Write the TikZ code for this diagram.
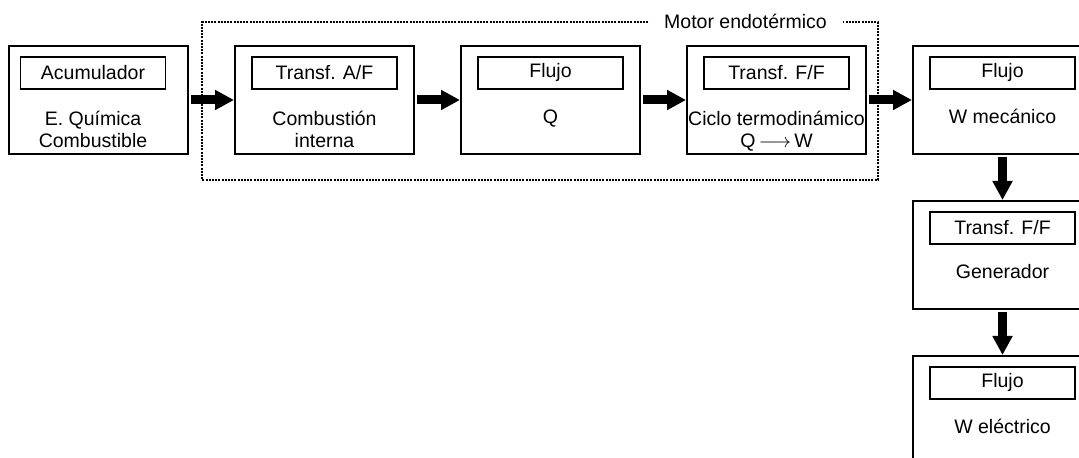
\documentclass[tikz,border=0pt]{standalone}
\usepackage{fontspec}
\setmainfont{Liberation Sans}
\usetikzlibrary{arrows.meta, positioning}

\tikzset{
  block/.style={draw, line width=1pt, minimum width=89.5pt, minimum height=54pt, inner sep=0pt},
  tag/.style={draw, line width=0.8pt, minimum width=72.5pt, minimum height=16pt, inner sep=0pt,
    font=\fontsize{9.75}{11}\selectfont},
  body/.style={align=center, inner sep=0pt, font=\fontsize{9.75}{11}\selectfont,
    execute at begin node=\rule{0pt}{10pt}},
  flow/.style={line width=4.5pt, -{Triangle[length=9.5pt, width=9.5pt]}, shorten <=1pt},
  motorframe/.style={line width=1pt, dash pattern=on 1pt off 0.6pt},
}

\begin{document}
\begin{tikzpicture}[x=0.5pt, y=-0.5pt, node distance=22.5pt]
  \useasboundingbox (0,0) rectangle (1079,458);

  % main chain
  \node[block] (acum) at (98.5,100) {};
  \node[block, right=of acum] (comb) {};
  \node[block, right=of comb] (calor) {};
  \node[block, right=of calor] (ciclo) {};
  \node[block, right=of ciclo] (mec) {};
  \node[block, below=of mec] (gen) {};
  \node[block, below=of gen] (elec) {};

  % headings
  \node[tag, below=5.5pt of acum.north, xshift=-2.75pt] (acumtag) {Acumulador};
  \node[tag, below=5.5pt of comb.north] (combtag) {Transf. A/F};
  \node[tag, below=5.5pt of calor.north] (calortag) {Flujo};
  \node[tag, below=5.5pt of ciclo.north] (ciclotag) {Transf. F/F};
  \node[tag, below=5.5pt of mec.north] (mectag) {Flujo};
  \node[tag, below=5.5pt of gen.north] (gentag) {Transf. F/F};
  \node[tag, below=5.5pt of elec.north] (electag) {Flujo};

  % contents
  \node[body, below=33pt of acum.north, xshift=-2.75pt] (acumtxt) {E. Química\\Combustible};
  \node[body, below=33pt of comb.north] (combtxt) {Combustión\\interna};
  \node[body, below=29pt of calor.north] (calortxt) {Q};
  \node[body, below=33pt of ciclo.north] (ciclotxt) {Ciclo termodinámico\\Q$\,\longrightarrow\,$W};
  \node[body, below=29pt of mec.north] (mectxt) {W mecánico};
  \node[body, below=29pt of gen.north] (gentxt) {Generador};
  \node[body, below=29pt of elec.north] (electxt) {W eléctrico};

  % arrows
  \draw[flow] (acum) -- (comb);
  \draw[flow] (comb) -- (calor);
  \draw[flow] (calor) -- (ciclo);
  \draw[flow] (ciclo) -- (mec);
  \draw[flow] (mec) -- (gen);
  \draw[flow] (gen) -- (elec);

  % engine frame
  \node[font=\fontsize{9.75}{11}\selectfont, inner xsep=7.75pt, inner ysep=0pt,
    text height=7pt, text depth=0pt] (motor) at (745.5,22) {Motor endotérmico};
  \draw[motorframe] (motor.west) -| (202,180) -| (878,22) -- (motor.east);
\end{tikzpicture}
\end{document}
